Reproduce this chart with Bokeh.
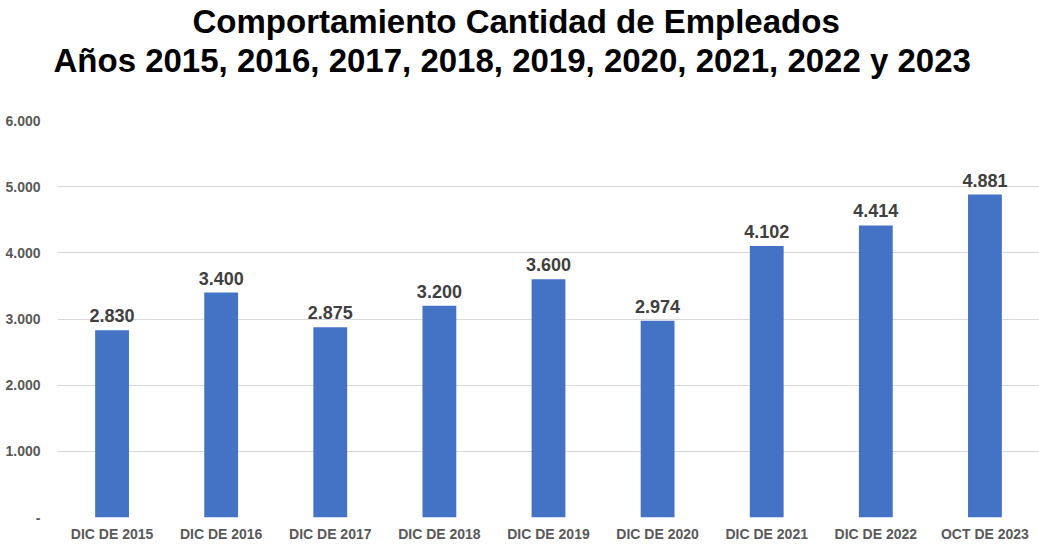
from bokeh.plotting import figure
from bokeh.models import ColumnDataSource, Title, FixedTicker, CustomJSTickFormatter
from bokeh.core.properties import value
from bokeh.embed import file_html
from bokeh.resources import INLINE

categories = ["DIC DE 2015", "DIC DE 2016", "DIC DE 2017", "DIC DE 2018", "DIC DE 2019",
              "DIC DE 2020", "DIC DE 2021", "DIC DE 2022", "OCT DE 2023"]
empleados = [2830, 3400, 2875, 3200, 3600, 2974, 4102, 4414, 4881]
y_ticks = [0, 1000, 2000, 3000, 4000, 5000, 6000]
title_line1 = "Comportamiento Cantidad de Empleados"
title_line2 = "Años 2015, 2016, 2017, 2018, 2019, 2020, 2021, 2022 y 2023"

labels = [f"{v:,}".replace(",", ".") for v in empleados]
src = ColumnDataSource(dict(cat=categories, val=empleados, lab=labels))

FONT = "Liberation Sans"

p = figure(x_range=categories, y_range=(0, 6000), width=1039, height=544,
           output_backend="svg", toolbar_location=None,
           min_border_left=57, min_border_right=0, min_border_top=0, min_border_bottom=0)
p.title = None
p.outline_line_color = None

spacer = Title(text=" ", text_font=FONT, text_font_size="10px", standoff=29)
t2 = Title(text=title_line2, align="left", text_font=FONT, text_font_size="33px",
           text_font_style="bold", text_color="black", offset=-4, standoff=0)
t1 = Title(text=title_line1, align="left", text_font=FONT, text_font_size="33px",
           text_font_style="bold", text_color="black", offset=135, standoff=0)
p.add_layout(spacer, "above")
p.add_layout(t2, "above")
p.add_layout(t1, "above")

p.vbar(x="cat", top="val", width=0.31, source=src, fill_color="#4472C4", line_color=None)
p.text(x="cat", y="val", text="lab", source=src, text_align="center", text_baseline="bottom",
       y_offset=-8, text_font=value(FONT), text_font_size="18px", text_font_style="bold",
       text_color="#404040")

p.yaxis.ticker = FixedTicker(ticks=y_ticks)
p.yaxis.formatter = CustomJSTickFormatter(code="""
if (tick == 0) { return '-'; }
return tick.toString().replace(/\\B(?=(\\d{3})+(?!\\d))/g, '.');
""")
for ax in (p.xaxis, p.yaxis):
    ax.axis_line_color = None
    ax.major_tick_line_color = None
    ax.minor_tick_line_color = None
    ax.major_tick_out = 0
    ax.major_tick_in = 0
    ax.major_label_text_font = FONT
    ax.major_label_text_font_size = "14px"
    ax.major_label_text_font_style = "bold"
    ax.major_label_text_color = "#595959"
p.yaxis.major_label_standoff = 17
p.xaxis.major_label_standoff = 8

p.xgrid.grid_line_color = None
p.ygrid.grid_line_color = "#d9d9d9"
p.ygrid.ticker = FixedTicker(ticks=y_ticks)

open("out.html", "w").write(file_html(p, INLINE))
